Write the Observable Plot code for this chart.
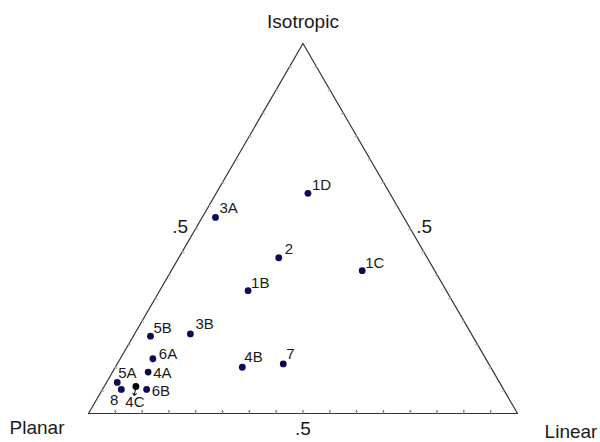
<!DOCTYPE html>
<html>
<head>
<meta charset="utf-8">
<script src="https://cdn.jsdelivr.net/npm/d3@7"></script>
<script src="https://cdn.jsdelivr.net/npm/@observablehq/plot@0.6"></script>
<style>
  html, body { margin: 0; padding: 0; background: #fff; }
  #chart svg { display: block; }
</style>
</head>
<body>
<div id="chart"></div>
<script>
// Sample labels and ternary fractions (isotropic, linear, planar)
const labels    = ["1D",  "3A",  "2",   "1C",  "1B",  "5B",  "3B",  "6A",  "4A",  "5A",  "8",   "4C",  "6B",  "4B",  "7"];
const isotropic = [0.595, 0.530, 0.421, 0.386, 0.332, 0.209, 0.215, 0.148, 0.112, 0.084, 0.065, 0.073, 0.065, 0.125, 0.134];
const linear    = [0.214, 0.031, 0.233, 0.445, 0.206, 0.040, 0.130, 0.076, 0.083, 0.025, 0.044, 0.074, 0.103, 0.296, 0.387];
const planar    = [0.191, 0.439, 0.346, 0.169, 0.462, 0.751, 0.655, 0.776, 0.805, 0.891, 0.891, 0.853, 0.832, 0.579, 0.479];

// label placement offsets (dx, dy) and anchors per sample
const labelDx     = [4, 4, 6, 3, 3, 3, 5, 6, 5, 1, -3, -1, 5, 2, 3];
const labelDy     = [-3, -4, -4, -3, -3, -3, -5, 0, 1, -4, 5, 10, 2, -5, -5];
const labelAnchor = ["start","start","start","start","start","start","start","start","start","start","end","middle","start","start","start"];
const labelLine   = ["bottom","bottom","bottom","bottom","bottom","bottom","bottom","bottom","middle","bottom","top","top","middle","bottom","bottom"];
const dotColor    = ["#0b0b55","#0b0b55","#0b0b55","#0b0b55","#0b0b55","#0b0b55","#0b0b55","#0b0b55","#0b0b55","#0b0b55","#0b0b55","#000","#0b0b55","#0b0b55","#0b0b55"];

// Vertices of the ternary diagram
const vertexNames = ["Planar", "Linear", "Isotropic"];
const vertexI = [0, 0, 1];
const vertexL = [0, 1, 0];
const tickFractions = d3.range(1, 16).map(k => k / 16);
const midLabel = ".5";

// ternary -> cartesian
const tx = (i, l, p) => (l + i / 2) / (i + l + p);
const ty = (i, l, p) => i / (i + l + p);

const samples = labels.map((name, k) => ({
  name,
  x: tx(isotropic[k], linear[k], planar[k]),
  y: ty(isotropic[k], linear[k], planar[k]),
  dx: labelDx[k], dy: labelDy[k], anchor: labelAnchor[k], line: labelLine[k], color: dotColor[k]
}));

const verts = vertexNames.map((n, k) => ({
  name: n,
  x: tx(vertexI[k], vertexL[k], 1 - vertexI[k] - vertexL[k]),
  y: ty(vertexI[k], vertexL[k], 1 - vertexI[k] - vertexL[k])
}));
const outline = [...verts, verts[0]];

const bottomTicks = tickFractions.map(t => ({x: t, y: 0, r: 0}));
const sideTicks = [
  ...tickFractions.map(t => ({x: t / 2, y: t, r: 120})),
  ...tickFractions.map(t => ({x: 1 - t / 2, y: t, r: 240}))
];

const mids = [
  {x: 0.25, y: 0.5, dx: -15.5, dy: 4},
  {x: 0.75, y: 0.5, dx: 14, dy: 4},
  {x: 0.5, y: 0, dx: 0, dy: 21}
];

const vertexLabelPos = {
  Planar:    {dx: -51.5, dy: 20},
  Linear:    {dx: 53.5, dy: 24},
  Isotropic: {dx: 0, dy: -16}
};

const font = "'Liberation Sans', Arial, Helvetica, sans-serif";

const chart = Plot.plot({
  width: 600,
  height: 442,
  marginLeft: 88,
  marginRight: 83,
  marginTop: 43,
  marginBottom: 29,
  x: {domain: [0, 1], axis: null},
  y: {domain: [0, 1], axis: null},
  style: {fontFamily: font, background: "#fff", overflow: "visible"},
  marks: [
    Plot.line(outline, {x: "x", y: "y", stroke: "#333", strokeWidth: 1.2}),
    Plot.vector(bottomTicks, {x: "x", y: "y", rotate: "r", length: 3, anchor: "start", stroke: "#777", strokeWidth: 1}),
    Plot.vector(sideTicks, {x: "x", y: "y", rotate: "r", length: 2, anchor: "start", stroke: "#bbb", strokeWidth: 1}),
    // leader line for 4C
    Plot.vector(samples.filter(d => d.name === "4C"), {x: "x", y: "y", rotate: 190, length: 9, anchor: "start", stroke: "#000", strokeWidth: 1}),
    Plot.dot(samples, {x: "x", y: "y", r: 3.4, fill: "color", stroke: "none"}),
    ...samples.map(d => Plot.text([d], {
      x: "x", y: "y", text: "name", dx: d.dx, dy: d.dy,
      textAnchor: d.anchor, lineAnchor: d.line, fontSize: 15, fill: "#1a1a1a"
    })),
    ...mids.map(m => Plot.text([m], {x: "x", y: "y", text: () => midLabel, dx: m.dx, dy: m.dy, lineAnchor: "bottom", fontSize: 19, fill: "#1a1a1a"})),
    ...verts.map(v => Plot.text([v], {
      x: "x", y: "y", text: "name",
      dx: vertexLabelPos[v.name].dx, dy: vertexLabelPos[v.name].dy,
      lineAnchor: "bottom", fontSize: 19, fill: "#1a1a1a"
    }))
  ]
});

document.getElementById("chart").appendChild(chart);
</script>
</body>
</html>
